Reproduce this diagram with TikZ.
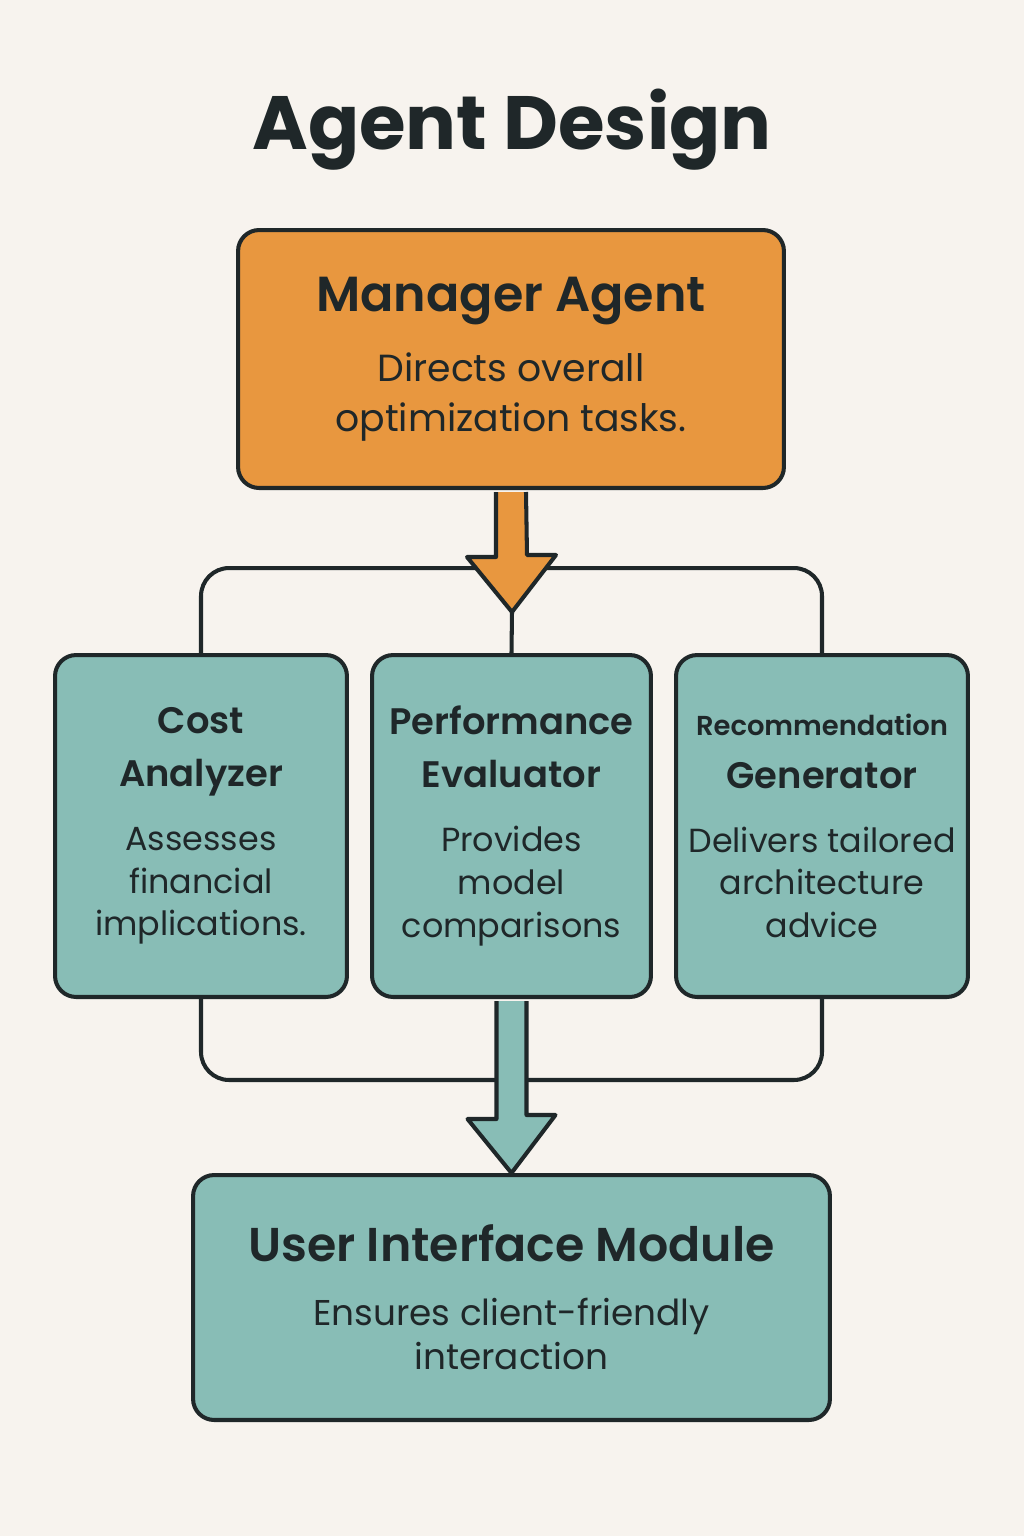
\documentclass[tikz,border=0pt]{standalone}
\usepackage{fontspec}
\setmainfont{Poppins}
\newfontface\medface{Poppins SemiBold}
\usetikzlibrary{positioning,calc}
\definecolor{bgcream}{HTML}{F7F3EE}
\definecolor{mgrorange}{HTML}{E8973F}
\definecolor{agteal}{HTML}{88BDB6}
\definecolor{inkdark}{HTML}{1F2729}
\newcommand{\bigtitle}{\fontsize{43}{52}\bfseries\selectfont}
\newcommand{\mgrhead}{\fontsize{28}{34}\medface}
\newcommand{\mgrdesc}{\normalfont\fontsize{21.5}{28}\selectfont}
\newcommand{\uihead}{\fontsize{27}{34}\medface}
\newcommand{\uidesc}{\normalfont\fontsize{20.4}{25.5}\selectfont}
\newcommand{\agenthead}{\fontsize{21}{30}\medface}
\newcommand{\recohead}{\fontsize{15.6}{30}\medface}
\newcommand{\agentdesc}{\normalfont\fontsize{19}{24.4}\selectfont}
\tikzset{
  box/.style={draw=inkdark, line width=2.3pt, rounded corners=12pt,
    align=flush center, text=inkdark, inner sep=0pt},
  mgrbox/.style={box, fill=mgrorange, minimum width=10.92cm, minimum height=5.16cm,
    text width=10.4cm},
  agentbox/.style={box, fill=agteal, minimum width=5.84cm, minimum height=6.84cm,
    text width=5.5cm},
  uibox/.style={box, fill=agteal, minimum width=12.74cm, minimum height=4.9cm,
    text width=12.2cm},
  link/.style={draw=inkdark, line width=2.3pt, rounded corners=16pt},
  fatarrow/.style={draw=inkdark, line width=2.3pt, line join=round}
}
\begin{document}
\begin{tikzpicture}[x=0.02cm, y=-0.02cm]
\useasboundingbox[fill=bgcream] (0,0) rectangle (1024,1536);
% title
\node[text=inkdark] (title) at (512,130) {\bigtitle Agent Design};
% boxes
\node[mgrbox] (mgr) at (511,359) {\mgrhead Manager Agent\\[12pt]
  \mgrdesc Directs overall\\ optimization tasks.\par};
\node[agentbox] (cost) at (201,826) {\agenthead Cost\\ Analyzer\\[12pt]
  \agentdesc Assesses\\ financial\\ implications.\par};
\node[agentbox, minimum width=5.58cm] (perf) at (511.5,826) {\agenthead Performance\\
  Evaluator\\[12pt]
  \agentdesc Provides\\ model\\ comparisons\par};
\node[agentbox] (reco) at (822,826) {\recohead Recommendation\\ \agenthead Generator\\[12pt]
  \agentdesc Delivers tailored\\ architecture\\ advice\par};
\node[uibox] (ui) at (511.5,1297.5) {\uihead User Interface Module\\[10.5pt]
  \uidesc Ensures client-friendly\\ interaction\par};
% fan-out from manager
\coordinate (hub) at (512,612);
\draw[link] (cost.north) |- ($(perf.north)+(0,-85)$) -| (reco.north);
\draw[link] (hub) -- (perf.north);
\draw[fatarrow, fill=mgrorange] ($(mgr.south)+(-15,2)$) -- ++(0,65) -- ++(-29,0)
  -- (hub) -- ++(44,-57) -- ++(-29,0) -- ($(mgr.south)+(15,2)$);
% fan-in to interface
\draw[link] (cost.south) |- ($(perf.south)+(0,81)$) -| (reco.south);
\draw[fatarrow, fill=agteal] ($(perf.south)+(-15,2)$) -- ++(0,118) -- ++(-29,0)
  -- (ui.north) -- ++(44,-58) -- ++(-29,0) -- ($(perf.south)+(15,2)$);
\end{tikzpicture}
\end{document}
